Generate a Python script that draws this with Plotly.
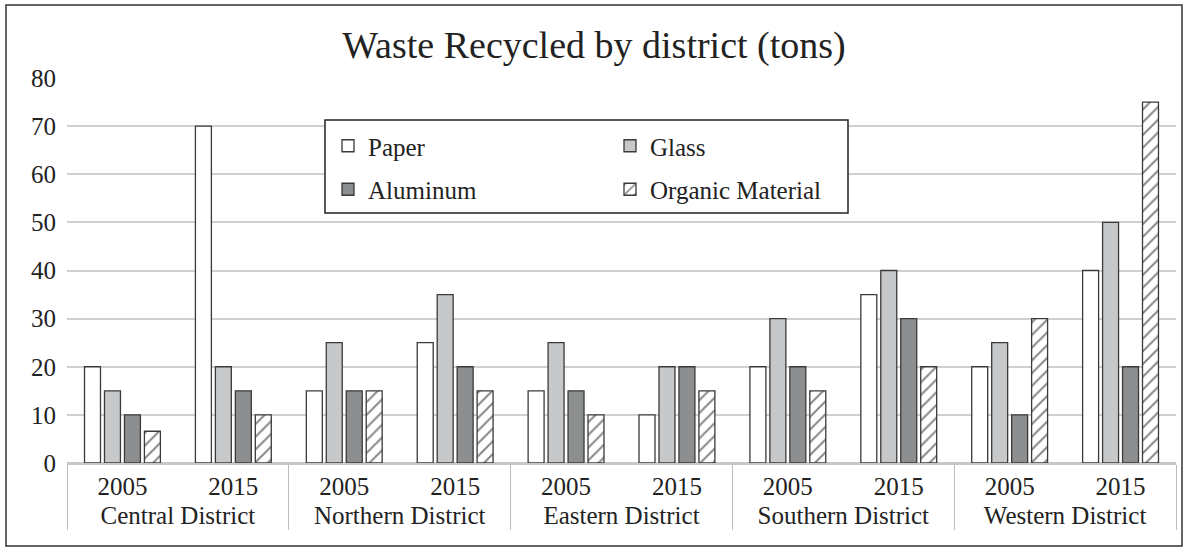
import plotly.graph_objects as go

districts = ["Central District", "Northern District", "Eastern District",
             "Southern District", "Western District"]
years = ["2005", "2015"]
paper = [20, 70, 15, 25, 15, 10, 20, 35, 20, 40]
glass = [15, 20, 25, 35, 25, 20, 30, 40, 25, 50]
aluminum = [10, 15, 15, 20, 15, 20, 20, 30, 10, 20]
organic = [6.6, 10, 15, 15, 10, 15, 15, 20, 30, 75]

x_district = [d for d in districts for _ in years]
x_year = [y for _ in districts for y in years]
x = [x_district, x_year]

FONT = "Liberation Serif"
EDGE = "#3a3a3a"
W, H = 1188, 551
L, R, T, B = 67, 12, 78, 88
pw, ph = W - L - R, H - T - B

fig = go.Figure()
series = [
    ("Paper", paper, "white", None, "legend"),
    ("Aluminum", aluminum, "#8d8e90", None, "legend"),
    ("Glass", glass, "#c7c8ca", None, "legend2"),
    ("Organic Material", organic, "white", "/", "legend2"),
]
order = ["Paper", "Glass", "Aluminum", "Organic Material"]
smap = {s[0]: s for s in series}
for name in order:
    _, vals, col, pat, leg = smap[name]
    marker = dict(color=col, line=dict(color=EDGE, width=1.3))
    if pat:
        marker["pattern"] = dict(shape=pat, fgcolor="#111111", bgcolor="white",
                                 size=9, solidity=0.22)
    fig.add_trace(go.Bar(name=name, x=x, y=vals, marker=marker,
                         legend=leg, legendgroup=name))

def px_x(p):
    return (p - L) / pw

def px_y(p):
    return (T + ph - p) / ph

legend_common = dict(
    font=dict(family=FONT, size=25, color="#222222"),
    bgcolor="rgba(0,0,0,0)", borderwidth=0, yanchor="top", xanchor="left",
    traceorder="grouped", tracegroupgap=8, orientation="v",
)
fig.update_layout(
    width=W, height=H,
    margin=dict(l=L, r=R, t=T, b=B),
    paper_bgcolor="white", plot_bgcolor="white",
    font=dict(family=FONT, size=25, color="#222222"),
    title=dict(text="Waste Recycled by district (tons)", x=0.5, xanchor="center",
               y=1 - 45 / H, yanchor="middle",
               font=dict(family=FONT, size=38, color="#222222")),
    barmode="group", bargap=0.28, bargroupgap=0.2,
    legend=dict(x=px_x(328), y=px_y(123), **legend_common),
    legend2=dict(x=px_x(610), y=px_y(123), **legend_common),
    showlegend=True,
    xaxis=dict(type="multicategory", showgrid=False, showline=True,
               linecolor="#c8c8c8", linewidth=1.5, ticks="",
               showdividers=True, dividercolor="#bdbdbd", dividerwidth=1.2,
               tickfont=dict(family=FONT, size=25, color="#222222")),
    yaxis=dict(range=[0, 80], dtick=10, showgrid=True, gridcolor="#d0d0d0",
               gridwidth=1.5, zeroline=True, zerolinecolor="#c8c8c8",
               zerolinewidth=1.5, showline=False, ticks="",
               ticklabelstandoff=10,
               tickfont=dict(family=FONT, size=25, color="#222222")),
    shapes=[
        dict(type="rect", xref="paper", yref="paper",
             x0=px_x(325), x1=px_x(848), y0=px_y(213), y1=px_y(120),
             line=dict(color="#222222", width=1.5), fillcolor="white",
             layer="above"),
        dict(type="rect", xref="paper", yref="paper",
             x0=px_x(6), x1=px_x(1182), y0=px_y(546), y1=px_y(5),
             line=dict(color="#333333", width=1.5), fillcolor="rgba(0,0,0,0)",
             layer="above"),
    ],
)

fig.write_html("out.html", config={"displayModeBar": False},
               post_script="document.body.style.margin='0';document.body.style.padding='0';")
